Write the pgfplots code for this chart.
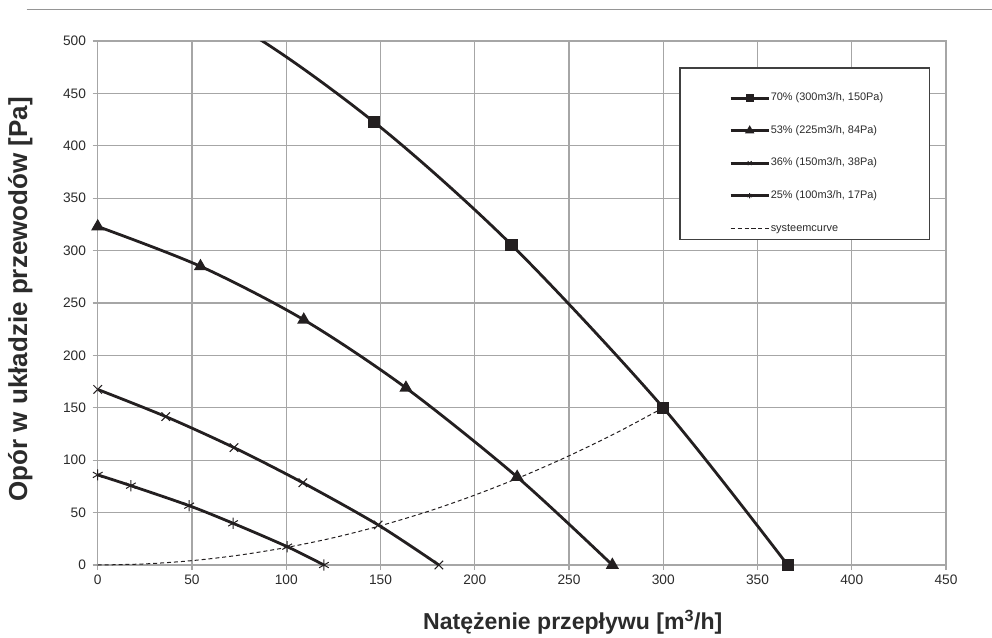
\documentclass[border=0pt]{standalone}
\usepackage{fontspec}
\setmainfont{Liberation Sans}
\usepackage{pgfplots}
\pgfplotsset{compat=1.18}
\definecolor{gridgray}{HTML}{A6A6A6}
\definecolor{curve}{HTML}{231F20}
\definecolor{txt}{HTML}{2B2B2B}
\begin{document}
\begin{tikzpicture}
\path[use as bounding box] (0,0) rectangle (744pt,477.75pt);
\draw[color=gridgray!90!black, line width=0.8pt] (20pt,470.8pt) -- (744pt,470.8pt);
\begin{axis}[
  scale only axis,
  width=636.2pt, height=393pt,
  at={(73.3pt,54pt)}, anchor=south west,
  xmin=0, xmax=450, ymin=0, ymax=500,
  xtick={0,50,...,450}, ytick={0,50,...,500},
  grid=major,
  major grid style={color=gridgray, line width=0.8pt},
  axis line style={color=gridgray, line width=0.8pt},
  tick style={color=gridgray, line width=0.8pt},
  tick align=outside, major tick length=3.75pt,
  xtick pos=bottom, ytick pos=left,
  /pgf/number format/assume math mode=true,
  ticklabel style={font=\fontsize{10.3}{12}\selectfont, text=txt},
  yticklabel style={xshift=-1.5pt},
  xticklabel style={yshift=-0.5pt},
  xlabel={Natężenie przepływu [m\textsuperscript{3}/h]},
  ylabel={Opór w układzie przewodów [Pa]},
  xlabel style={font=\fontsize{17.3}{20}\selectfont\bfseries, text=txt, at={(axis description cs:0.56,-0.109)}, anchor=center},
  ylabel style={font=\fontsize{19.5}{22}\selectfont\bfseries, text=txt, at={(axis description cs:-0.0914,0.507)}, anchor=center, rotate=0},
  legend cell align=left,
  legend style={draw=none, fill=none, inner sep=0pt, at={(0.7442,0.9027)}, anchor=north west,
    font=\fontsize{8.2}{9.6}\selectfont, text=txt, row sep=15.6pt,
    nodes={inner sep=0.5pt, text height=6pt, text depth=1.8pt}},
  legend image code/.code={\draw[mark repeat=2,mark phase=2,#1, mark size=2pt] plot coordinates {(0pt,0pt)(14.25pt,0pt)(28.5pt,0pt)};},
  every axis plot/.append style={line width=2.1pt, color=curve},
]
\addplot[smooth, mark=square*, mark size=3.5pt, mark options={solid, fill=curve}]
  coordinates {(0,565) (73.3,515) (146.7,422.5) (219.5,305.5) (300,150) (366,0)};
\addlegendentry{70\% (300m3/h, 150Pa)}
\addplot[smooth, mark=triangle*, mark size=3.6pt, mark options={solid, fill=curve}]
  coordinates {(0,323) (54.5,285) (109.3,234) (163.5,169) (222.5,84) (273,0)};
\addlegendentry{53\% (225m3/h, 84Pa)}
\addplot[smooth, mark=x, mark size=4.5pt, mark options={solid, line width=0.75pt}]
  coordinates {(0,167.5) (36.1,141.6) (72.3,112) (108.8,78.5) (148.8,38.2) (181,0)};
\addlegendentry{36\% (150m3/h, 38Pa)}
\addplot[smooth, mark=asterisk, mark size=4.2pt, mark options={solid, line width=0.75pt}]
  coordinates {(0,86) (17.6,75.7) (48.5,56.6) (71.8,39.8) (100.5,17.5) (120,0)};
\addlegendentry{25\% (100m3/h, 17Pa)}
\addplot[smooth, line width=0.75pt, dash pattern=on 3pt off 2.2pt]
  coordinates {(0,0) (25,1.04) (50,4.17) (75,9.4) (100,16.7) (125,26) (150,37.5) (175,51) (200,66.7) (225,84.4) (250,104.2) (275,126) (300,150)};
\addlegendentry{systeemcurve}
\draw[color=black!75, line width=0.8pt, fill=white] (rel axis cs:0.6864,0.622) rectangle (rel axis cs:0.980,0.9485);
\end{axis}
\end{tikzpicture}
\end{document}
